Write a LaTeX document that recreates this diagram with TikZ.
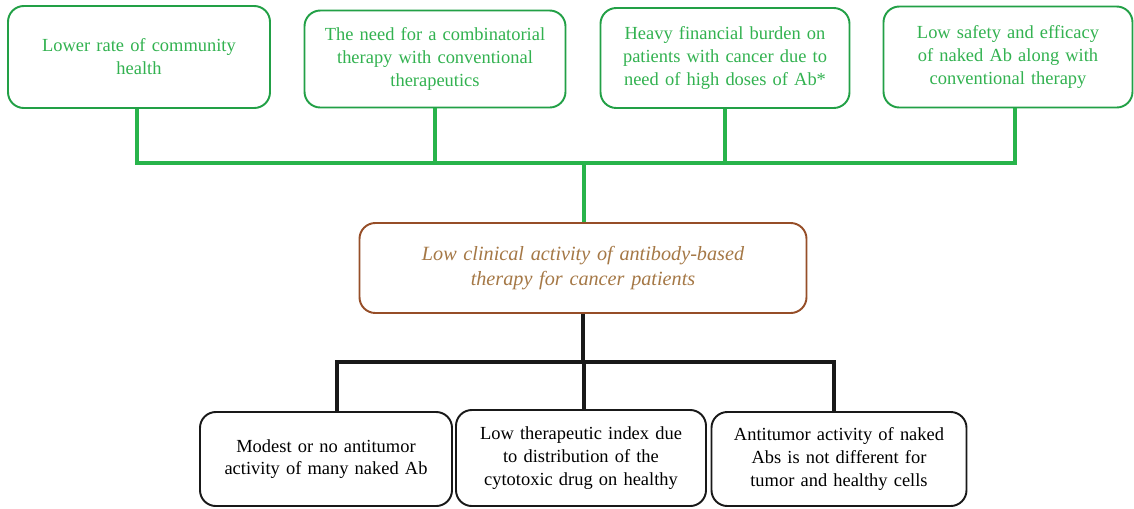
\documentclass[tikz,border=0pt]{standalone}
\usepackage{fontspec}
\setmainfont{Liberation Serif}
\usetikzlibrary{positioning}

\definecolor{boxgreen}{RGB}{34,160,70}
\definecolor{txtgreen}{RGB}{50,178,80}
\definecolor{linegreen}{RGB}{40,180,75}
\definecolor{boxbrown}{RGB}{150,78,40}
\definecolor{txtbrown}{RGB}{165,120,70}

\begin{document}
\begin{tikzpicture}[x=0.2mm, y=-0.2mm,
  causebox/.style={rectangle, draw=boxgreen, line width=1.1pt, fill=white, rounded corners=9pt,
    align=center, text=txtgreen, font=\fontsize{10.5}{13}\selectfont, inner sep=0pt},
  mainbox/.style={rectangle, draw=boxbrown, line width=1.1pt, fill=white, rounded corners=9pt,
    align=center, text=txtbrown, font=\fontsize{11.5}{14}\selectfont\itshape, inner sep=0pt},
  effbox/.style={rectangle, draw=black!90, line width=1.1pt, fill=white, rounded corners=9pt,
    align=center, text=black, font=\fontsize{10.5}{13}\selectfont, inner sep=0pt},
  gline/.style={draw=linegreen, line width=1.8pt},
  kline/.style={draw=black!90, line width=1.8pt}
]
  \useasboundingbox (0,0) rectangle (1134,508);

  \node[causebox, text width=240*0.2mm, minimum width=262*0.2mm, minimum height=102*0.2mm] (low)  at (139,57)
        {Lower rate of community\\health};
  \node[causebox, text width=240*0.2mm, minimum width=261*0.2mm, minimum height=97*0.2mm] (comb) at (435,59)
        {The need for a combinatorial\\therapy with conventional\\therapeutics};
  \node[causebox, text width=230*0.2mm, minimum width=249*0.2mm, minimum height=100*0.2mm] (fin)  at (725,58)
        {Heavy financial burden on\\patients with cancer due to\\need of high doses of Ab*};
  \node[causebox, text width=230*0.2mm, minimum width=249*0.2mm, minimum height=101*0.2mm] (safe) at (1008,57)
        {Low safety and efficacy\\of naked Ab along with\\conventional therapy};

  \node[mainbox, text width=420*0.2mm, minimum width=447*0.2mm, minimum height=90*0.2mm] (clin) at (583,268)
        {Low clinical activity of antibody-based\\therapy for cancer patients};

  \node[effbox, text width=230*0.2mm, minimum width=252*0.2mm, minimum height=94*0.2mm] (mod)  at (326,459)
        {Modest or no antitumor\\activity of many naked Ab};
  \node[effbox, text width=230*0.2mm, minimum width=250*0.2mm, minimum height=96*0.2mm] (idx)  at (581,458)
        {Low therapeutic index due\\to distribution of the\\cytotoxic drug on healthy};
  \node[effbox, text width=235*0.2mm, minimum width=255*0.2mm, minimum height=94*0.2mm] (anti) at (839,459)
        {Antitumor activity of naked\\Abs is not different for\\tumor and healthy cells};

  % green tree
  \coordinate (gbar) at (584,163);
  \coordinate (gl) at (137,163);
  \coordinate (gr) at (1015,163);
  \draw[gline] (gl |- low.south) -- (gl) -- (gr) -- (gr |- safe.south);
  \draw[gline] (comb.south) -- (comb.south |- gbar);
  \draw[gline] (fin.south) -- (fin.south |- gbar);
  \draw[gline] (gbar) -- (gbar |- clin.north);

  % black tree
  \coordinate (kbar) at (584,362);
  \coordinate (kl) at (337,362);
  \coordinate (kr) at (834,362);
  \draw[kline] (clin.south) -- (clin.south |- kbar);
  \draw[kline] (kl |- mod.north) -- (kl) -- (kr) -- (kr |- anti.north);
  \draw[kline] (kbar |- idx.north) -- (kbar);
\end{tikzpicture}
\end{document}
